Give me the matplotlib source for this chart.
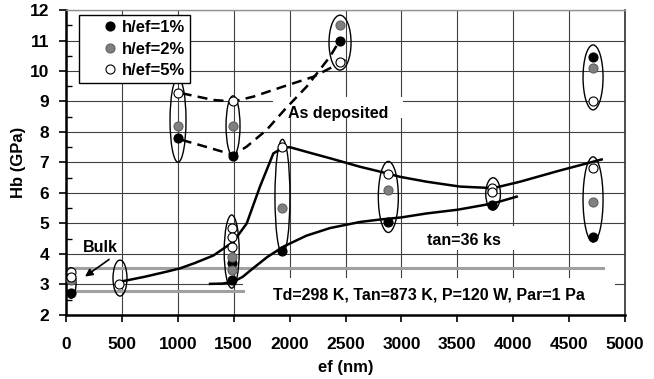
import matplotlib
matplotlib.use("Agg")
import matplotlib.pyplot as plt
from matplotlib.patches import Ellipse, Rectangle

plt.rcParams['font.family'] = ['Liberation Sans', 'DejaVu Sans']
plt.rcParams['font.weight'] = 'bold'
plt.rcParams['font.size'] = 12

# hardness vs film thickness, one series per h/ef ratio
ef_1 = [45, 1002, 1494, 2451, 4714, 1482, 1482, 1932, 2883, 3808, 4714]
hb_1 = [2.71, 7.81, 7.22, 11.0, 10.47, 3.69, 3.15, 4.11, 5.06, 5.61, 4.57]
ef_2 = [45, 1002, 1494, 2451, 4714, 1482, 1482, 1932, 2883, 3808, 4714]
hb_2 = [3.15, 8.2, 8.2, 11.51, 10.09, 3.91, 3.48, 5.5, 6.10, 6.08, 5.69]
ef_5 = [45, 45, 474, 1002, 1494, 2451, 4714, 1482, 1482, 1482, 1932, 2883, 3808, 3808, 4714]
hb_5 = [3.42, 3.26, 3.02, 9.29, 9.0, 10.29, 9.03, 4.84, 4.57, 4.24, 7.52, 6.62, 6.15, 6.02, 6.82]

# as deposited trend lines (dashed)
dep_hi_x = [1035, 1318, 1497, 1676, 1944, 2212, 2361, 2525]
dep_hi_y = [9.27, 9.05, 9.0, 9.16, 9.49, 9.81, 10.09, 10.41]
dep_lo_x = [1035, 1199, 1497, 1616, 1795, 1960, 2153, 2361, 2440]
dep_lo_y = [7.74, 7.57, 7.25, 7.52, 8.07, 8.75, 9.49, 10.47, 10.95]

# annealed trend lines (solid)
ann_hi_x = [483, 700, 900, 1020, 1150, 1318, 1497, 1616, 1735, 1855, 1944, 2004,
            2200, 2361, 2630, 2809, 2988, 3226, 3524, 3822, 4061, 4400, 4791]
ann_hi_y = [3.09, 3.25, 3.42, 3.53, 3.7, 3.95, 4.4, 5.0, 6.21, 7.30, 7.49, 7.5,
            7.3, 7.14, 6.86, 6.70, 6.53, 6.37, 6.21, 6.16, 6.37, 6.72, 7.10]
ann_lo_x = [1288, 1400, 1497, 1580, 1676, 1800, 1944, 2150, 2361, 2630, 2809, 3000,
            3226, 3500, 3822, 4031]
ann_lo_y = [3.02, 3.03, 3.09, 3.25, 3.54, 3.9, 4.24, 4.6, 4.85, 5.05, 5.13, 5.2,
            5.33, 5.45, 5.66, 5.88]

# bulk hardness levels
bulk_hi = 3.55
bulk_lo = 2.8

# groups of measurements circled on the chart: centre x, centre y, width, height
grp_x = [45, 483, 1002, 1494, 2451, 4714, 1482, 1936, 2883, 3820, 4714]
grp_y = [3.05, 3.21, 8.39, 8.2, 10.93, 9.79, 4.08, 5.88, 5.87, 5.97, 5.79]
grp_w = [90, 125, 143, 125, 197, 179, 134, 134, 179, 131, 179]
grp_h = [1.0, 1.18, 2.76, 1.97, 1.8, 2.13, 2.4, 3.76, 2.33, 1.06, 2.79]

fig = plt.figure(figsize=(6.54, 3.79), dpi=100)
ax = fig.add_axes([0.1009, 0.1689, 0.8548, 0.8047])
ax.set_axisbelow(True)

ax.plot([0, 4800], [bulk_hi, bulk_hi], color='#a0a0a0', lw=2.2, zorder=1.2)
ax.plot([0, 1585], [bulk_lo, bulk_lo], color='#a0a0a0', lw=2.2, zorder=1.2)

# white label boxes hide the grid underneath
for x0, x1, y0, y1 in [(1851, 3014, 8.46, 9.15), (3180, 4030, 4.13, 4.92), (1585, 4910, 2.0, 3.2)]:
    ax.add_patch(Rectangle((x0, y0), x1 - x0, y1 - y0, fc='white', ec='none', zorder=1))

ax.plot(dep_hi_x, dep_hi_y, 'k--', lw=1.8, dashes=(4, 2.5), zorder=2)
ax.plot(dep_lo_x, dep_lo_y, 'k--', lw=1.8, dashes=(4, 2.5), zorder=2)
ax.plot(ann_hi_x, ann_hi_y, 'k-', lw=1.8, zorder=2)
ax.plot(ann_lo_x, ann_lo_y, 'k-', lw=1.8, zorder=2)

for x, y, w, h in zip(grp_x, grp_y, grp_w, grp_h):
    ax.add_patch(Ellipse((x, y), w, h, fc='none', ec='black', lw=1.0, zorder=3))

ax.plot(ef_1, hb_1, 'o', ms=6.5, mfc='black', mec='black', mew=0.8, label='h/ef=1%', zorder=4)
ax.plot(ef_2, hb_2, 'o', ms=6.5, mfc='#808080', mec='#606060', mew=0.8, label='h/ef=2%', zorder=4)
ax.plot(ef_5, hb_5, 'o', ms=6.5, mfc='white', mec='black', mew=0.8, label='h/ef=5%', zorder=4)

ax.text(2437, 8.62, 'As deposited', ha='center', va='center', fontsize=11.5, zorder=5)
ax.text(3555, 4.43, 'tan=36 ks', ha='center', va='center', fontsize=11.5, zorder=5)
ax.text(3242, 2.66, 'Td=298 K, Tan=873 K, P=120 W, Par=1 Pa', ha='center', va='center',
        fontsize=11.5, zorder=5)
ax.text(304, 4.2, 'Bulk', ha='center', va='center', fontsize=11.5, zorder=5)
ax.annotate('', xy=(170, 3.26), xytext=(385, 3.82),
            arrowprops=dict(arrowstyle='-|>', color='black', lw=1.2, shrinkA=0, shrinkB=0,
                            mutation_scale=11), zorder=5)

ax.set_xlim(0, 5000)
ax.set_ylim(2, 12)
ax.set_xticks(range(0, 5001, 500))
ax.set_yticks(range(2, 13))
ax.set_yticks([v + 0.5 for v in range(2, 12)], minor=True)
ax.grid(True, which='major', color='#404040', lw=0.8)
ax.tick_params(axis='both', which='major', direction='out', length=5, width=1.2, labelsize=12.5)
ax.tick_params(axis='x', which='major', pad=10.5)
ax.tick_params(axis='y', which='major', pad=7)
ax.tick_params(axis='y', which='minor', direction='in', length=4, width=1.0)
for lab in ax.get_xticklabels() + ax.get_yticklabels():
    lab.set_fontweight('bold')

ax.spines['left'].set_linewidth(1.8)
ax.spines['bottom'].set_linewidth(1.8)
ax.spines['top'].set_color('#909090')
ax.spines['top'].set_linewidth(1.0)
ax.spines['right'].set_color('#303030')
ax.spines['right'].set_linewidth(1.2)

ax.set_xlabel('ef (nm)', fontsize=12, fontweight='bold', labelpad=6)
ax.set_ylabel('Hb (GPa)', fontsize=12, fontweight='bold', labelpad=3)

leg = ax.legend(loc='upper left', bbox_to_anchor=(0.023, 0.984), fancybox=False, framealpha=1,
                edgecolor='black', fontsize=12, handlelength=3.1, handletextpad=-0.8,
                labelspacing=0.4, borderpad=0.3, borderaxespad=0)
leg.get_frame().set_linewidth(1.0)

plt.savefig('out.png', dpi=100)
